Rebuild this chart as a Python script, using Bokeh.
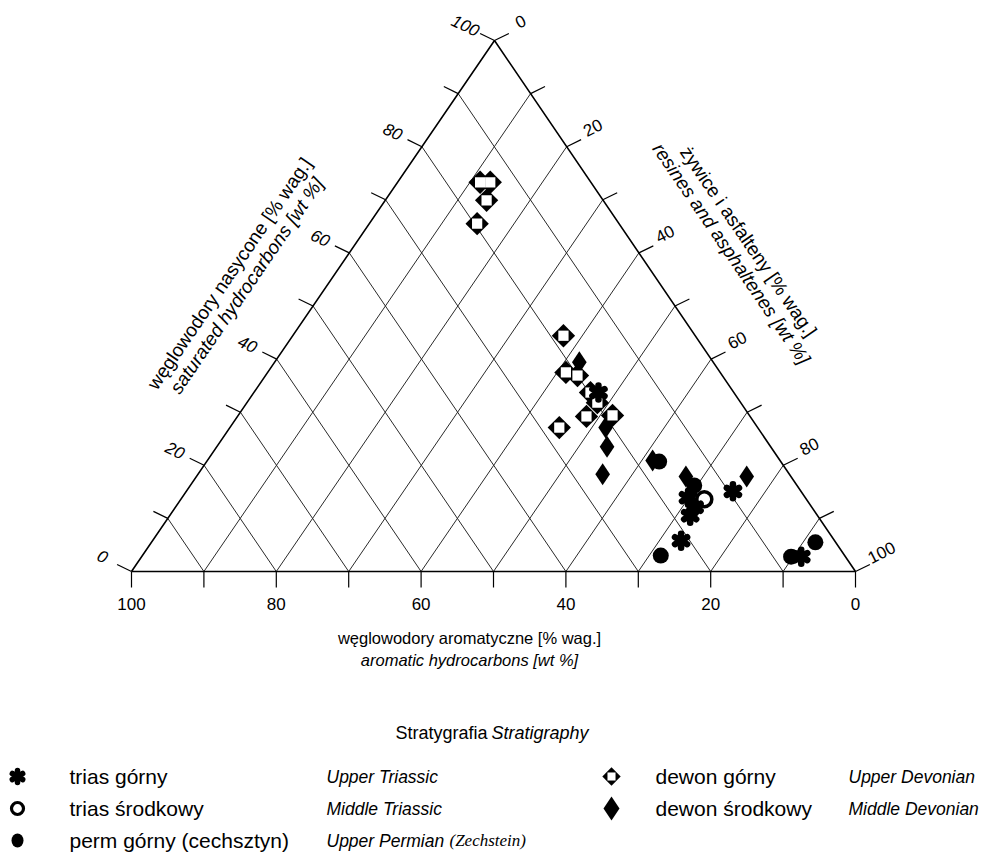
import math
from bokeh.plotting import figure
from bokeh.models import Range1d
from bokeh.core.properties import value
from bokeh.embed import file_html
from bokeh.resources import INLINE

# ---------------- data (wt %) : saturated, aromatic, resins+asphaltenes -------------
ud_sat = [73.3, 73.3, 69.9, 65.5, 44.4, 37.5, 36.9, 33.7, 31.8, 29.2, 29.4, 27.1]
ud_aro = [15.3, 13.9, 16.1, 19.6, 18.2, 21.3, 20.0, 19.8, 19.8, 22.6, 18.9, 27.4]
ud_res = [11.4, 12.8, 14.0, 14.9, 37.4, 41.2, 43.1, 46.5, 48.4, 48.2, 51.7, 45.5]

md_sat = [39.4, 27.1, 23.5, 18.3, 20.9, 17.9, 17.9]
md_aro = [18.5, 21.0, 22.6, 25.8, 17.6, 14.5, 6.1]
md_res = [42.1, 51.9, 53.9, 55.9, 61.5, 67.6, 76.0]

ut_sat = [33.7, 13.9, 12.1, 10.5, 15.1, 5.8, 2.8]
ut_aro = [18.7, 16.2, 16.2, 17.6, 9.4, 21.2, 6.1]
ut_res = [47.6, 69.9, 71.7, 71.9, 75.5, 73.0, 91.1]

mt_sat = [13.6]
mt_aro = [14.1]
mt_res = [72.3]

up_sat = [20.7, 16.2, 3.0, 2.8, 5.5]
up_aro = [16.8, 14.2, 25.4, 7.5, 2.8]
up_res = [62.5, 69.6, 71.6, 89.7, 91.7]

ticks = [0, 10, 20, 30, 40, 50, 60, 70, 80, 90, 100]
lab_vals = [0, 20, 40, 60, 80, 100]
tick_labels = ["0", "20", "40", "60", "80", "100"]

legend_pl = ["trias górny", "trias środkowy", "perm górny (cechsztyn)", "dewon górny", "dewon środkowy"]
legend_en = ["Upper Triassic", "Middle Triassic", "Upper Permian", "Upper Devonian", "Middle Devonian"]

# ---------------- layout -------------
W, H = 986, 859
PAGE_H = 859
FONT = value("Liberation Sans")
SERIF = value("Liberation Serif")


def Y(py):
    return PAGE_H - py


BL = (131.0, Y(571))
BR = (855.0, Y(571))
TOP = (494.0, Y(40))


def tern(s, a, r):
    xs, ys = [], []
    for si, ai, ri in zip(s, a, r):
        t = si + ai + ri
        xs.append((si * TOP[0] + ai * BL[0] + ri * BR[0]) / t)
        ys.append((si * TOP[1] + ai * BL[1] + ri * BR[1]) / t)
    return xs, ys


p = figure(width=W, height=H, x_range=Range1d(0, W), y_range=Range1d(PAGE_H - H, PAGE_H),
           output_backend="svg", toolbar_location=None, min_border=0,
           x_axis_type=None, y_axis_type=None)
p.grid.visible = False
p.outline_line_color = None
p.background_fill_color = "white"
p.border_fill_color = "white"

# ---------------- grid (rhombic: lines parallel to the two slanted edges) -------------
gx, gy = [], []
for k in ticks[1:-1]:
    x, y = tern([0, 100 - k], [k, k], [100 - k, 0]); gx.append(x); gy.append(y)
    x, y = tern([0, 100 - k], [100 - k, 0], [k, k]); gx.append(x); gy.append(y)
p.multi_line(gx, gy, line_color="#2a2a2a", line_width=1)

# triangle
tx, ty = tern([0, 0, 100, 0], [100, 0, 0, 100], [0, 100, 0, 0])
p.line(tx, ty, line_color="black", line_width=1.6)

# ---------------- ticks -------------
TL = 16
dl = (-0.90, 0.44)   # left edge tick direction
dr = (0.90, 0.44)    # right edge tick direction
bx, by = tern([0] * 11, ticks, [100 - t for t in ticks])
p.segment(bx, by, bx, [v - TL for v in by], line_color="black", line_width=1.2)
lx, ly = tern(ticks, [100 - t for t in ticks], [0] * 11)
p.segment(lx, ly, [v + dl[0] * TL for v in lx], [v + dl[1] * TL for v in ly], line_color="black", line_width=1.2)
rx, ry = tern([100 - t for t in ticks], [0] * 11, ticks)
p.segment(rx, ry, [v + dr[0] * TL for v in rx], [v + dr[1] * TL for v in ry], line_color="black", line_width=1.2)

# tick labels
bxl, byl = tern([0] * 6, lab_vals, [100 - t for t in lab_vals])
p.text(bxl, [v - 32 for v in byl], text=tick_labels, text_font=FONT, text_font_size="17px",
       text_align="center", text_baseline="middle", text_color="black")
lxl, lyl = tern(lab_vals, [100 - t for t in lab_vals], [0] * 6)
p.text([v - 29 for v in lxl], [v + 15 for v in lyl], text=tick_labels, text_font=FONT,
       text_font_size="17px", text_font_style="italic", angle=-0.45,
       text_align="center", text_baseline="middle", text_color="black")
rxl, ryl = tern([100 - t for t in lab_vals], [0] * 6, lab_vals)
p.text([v + 26 for v in rxl], [v + 19 for v in ryl], text=tick_labels, text_font=FONT,
       text_font_size="17px", angle=0.47,
       text_align="center", text_baseline="middle", text_color="black")

# ---------------- axis titles -------------
p.text([469], [Y(637)], text=["węglowodory aromatyczne [% wag.]"], text_font=FONT, text_font_size="16.5px",
       text_align="center", text_baseline="middle")
p.text([469], [Y(659)], text=["aromatic hydrocarbons [wt %]"], text_font=FONT, text_font_size="16.5px",
       text_font_style="italic", text_align="center", text_baseline="middle")

RS = "19px"
ang = math.atan2(TOP[1] - BL[1], TOP[0] - BL[0])
p.text([229], [Y(273)], text=["węglowodory nasycone [% wag.]"], text_font=FONT, text_font_size=RS,
       angle=ang, text_align="center", text_baseline="middle")
p.text([229 + 0.819 * 21], [Y(273 + 0.574 * 21)], text=["saturated hydrocarbons [wt %]"], text_font=FONT,
       text_font_size=RS, text_font_style="italic", angle=ang, text_align="center", text_baseline="middle")
p.text([748], [Y(241)], text=["żywice i asfalteny [% wag.]"], text_font=FONT, text_font_size=RS,
       angle=-ang, text_align="center", text_baseline="middle")
p.text([748 - 0.819 * 21], [Y(241 + 0.574 * 21)], text=["resines and asphaltenes [wt %]"], text_font=FONT,
       text_font_size=RS, text_font_style="italic", angle=-ang, text_align="center", text_baseline="middle")


# ---------------- markers -------------
def asterisk(x, y, size=14, lw=6.5):
    for a in (math.pi / 2, math.pi / 6, -math.pi / 6):
        p.scatter(x, y, marker="dash", size=size, angle=a, line_color="black", line_width=lw,
                  line_cap="round", fill_color="black")
    p.scatter(x, y, marker="circle", size=8, fill_color="black", line_color=None)


def ring(x, y, size=15, lw=3.5):
    p.scatter(x, y, marker="circle", size=size, fill_color="white", line_color="black", line_width=lw)


def dot(x, y, size=16):
    p.scatter(x, y, marker="circle", size=size, fill_color="black", line_color=None)


def open_diamond(x, y, size=16.5):
    p.scatter(x, y, marker="square", size=size, angle=math.pi / 4, fill_color="black", line_color=None)
    p.scatter(x, y, marker="square", size=size * 0.62, fill_color="white", line_color=None)


def full_diamond(x, y, size=22):
    p.scatter(x, y, marker="diamond", size=size, fill_color="black", line_color=None)


x, y = tern(up_sat, up_aro, up_res); dot(x, y)
x, y = tern(mt_sat, mt_aro, mt_res); ring(x, y)
x, y = tern(md_sat, md_aro, md_res); full_diamond(x, y)
x, y = tern(ud_sat, ud_aro, ud_res); open_diamond(x, y)
x, y = tern(ut_sat, ut_aro, ut_res); asterisk(x, y)

# ---------------- legend -------------
p.text([487], [Y(732)], text=["Stratygrafia"], text_font=FONT, text_font_size="18px",
       text_align="right", text_baseline="middle")
p.text([491], [Y(732)], text=["Stratigraphy"], text_font=FONT, text_font_size="18px", text_font_style="italic",
       text_align="left", text_baseline="middle")

rows = [776, 808, 840]
asterisk([17], [Y(rows[0])], size=12, lw=5.5)
ring([17], [Y(rows[1])], size=12, lw=3.2)
p.ellipse([17], [Y(rows[2])], width=12, height=14, fill_color="black", line_color=None)
open_diamond([611], [Y(rows[0])], size=13)
full_diamond([611], [Y(rows[1])], size=24)

col_pl = [69, 69, 69, 655, 655]
col_en = [326, 326, 326, 848, 848]
row_of = [rows[0], rows[1], rows[2], rows[0], rows[1]]
p.text(col_pl, [Y(r) for r in row_of], text=legend_pl, text_font=FONT, text_font_size="21px",
       text_align="left", text_baseline="middle")
p.text(col_en, [Y(r) for r in row_of], text=legend_en, text_font=FONT, text_font_size="17.5px",
       text_font_style="italic", text_align="left", text_baseline="middle")
p.text([449], [Y(rows[2])], text=["(Zechstein)"], text_font=SERIF, text_font_size="17px",
       text_font_style="italic", text_align="left", text_baseline="middle")

open("out.html", "w").write(file_html(p, INLINE))
